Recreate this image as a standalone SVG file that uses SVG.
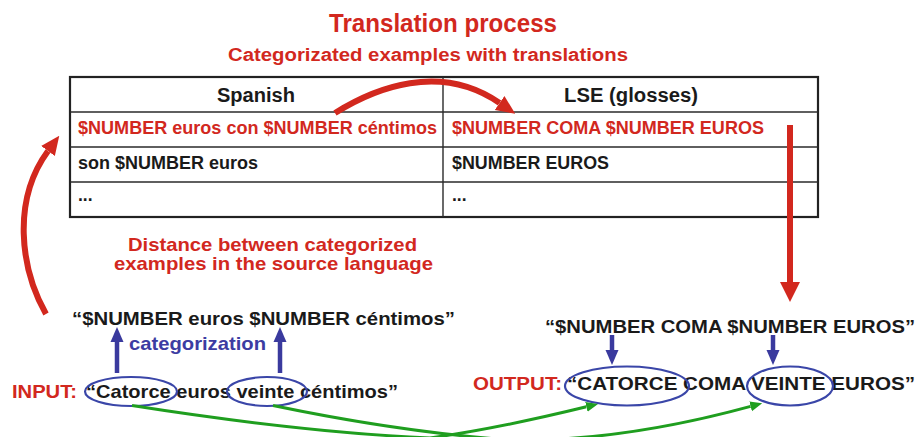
<svg xmlns="http://www.w3.org/2000/svg" width="917" height="437" viewBox="0 0 917 437">
  <defs>
    <style>
      text { font-family: "Liberation Sans", Arial, Helvetica, sans-serif; font-weight: bold; }
      .red { fill: #d2281e; }
      .blk { fill: #1a1a1a; }
      .blu { fill: #3c3ca2; }
      .cell { font-size: 17.5px; }
      .head { font-size: 20px; }
      .big { font-size: 19px; }
      .frame { fill: #ffffff; stroke: #222222; stroke-width: 2.2; }
      .rule { stroke: #2a2a2a; stroke-width: 1.4; }
      .ring { fill: none; stroke: #3a46a8; stroke-width: 2.2; }
      .flow-red { fill: none; stroke: #d2281e; stroke-width: 6; }
      .flow-blue { fill: none; stroke: #3a3a9e; stroke-width: 4.5; }
      .flow-green { fill: none; stroke: #1f9e1f; stroke-width: 3; }
    </style>
    <marker id="headRed" markerUnits="userSpaceOnUse" viewBox="0 -10 19 20" refX="0" refY="0" markerWidth="19" markerHeight="20" orient="auto">
      <path d="M0,-8.5 L19,0 L0,8.5 z" fill="#d2281e"/>
    </marker>
    <marker id="headRedV" markerUnits="userSpaceOnUse" viewBox="0 -10 20 20" refX="0" refY="0" markerWidth="20" markerHeight="20" orient="auto">
      <path d="M0,-10 L20,0 L0,10 z" fill="#d2281e"/>
    </marker>
    <marker id="headBlue" markerUnits="userSpaceOnUse" viewBox="0 -7 15 14" refX="0" refY="0" markerWidth="15" markerHeight="14" orient="auto">
      <path d="M0,-6.5 L15,0 L0,6.5 z" fill="#3a3a9e"/>
    </marker>
    <marker id="headGreen" markerUnits="userSpaceOnUse" viewBox="0 -6 12 12" refX="0" refY="0" markerWidth="12" markerHeight="12" orient="auto">
      <path d="M0,-5 L12,0 L0,5 z" fill="#1f9e1f"/>
    </marker>
  </defs>

  <rect width="917" height="437" fill="#ffffff"/>

  <!-- headings -->
  <g id="title">
    <text class="red" x="329" y="32" font-size="25" textLength="228" lengthAdjust="spacingAndGlyphs">Translation process</text>
    <text class="red" x="228" y="61" font-size="18" textLength="400" lengthAdjust="spacingAndGlyphs">Categorizated examples with translations</text>
  </g>

  <!-- example table -->
  <g id="examples-table">
    <rect class="frame" x="70" y="77" width="748" height="140"/>
    <line class="rule" x1="70" y1="112" x2="818" y2="112"/>
    <line class="rule" x1="70" y1="147" x2="818" y2="147"/>
    <line class="rule" x1="70" y1="182" x2="818" y2="182"/>
    <line class="rule" x1="443" y1="77" x2="443" y2="217"/>
    <text class="blk head" x="217" y="102" textLength="78" lengthAdjust="spacingAndGlyphs">Spanish</text>
    <text class="blk head" x="564" y="102" textLength="134" lengthAdjust="spacingAndGlyphs">LSE (glosses)</text>
    <text class="red cell" x="78" y="134" textLength="359" lengthAdjust="spacingAndGlyphs">$NUMBER euros con $NUMBER céntimos</text>
    <text class="red cell" x="452" y="134" textLength="312" lengthAdjust="spacingAndGlyphs">$NUMBER COMA $NUMBER EUROS</text>
    <text class="blk cell" x="78" y="169" textLength="180" lengthAdjust="spacingAndGlyphs">son $NUMBER euros</text>
    <text class="blk cell" x="452" y="169" textLength="157" lengthAdjust="spacingAndGlyphs">$NUMBER EUROS</text>
    <text class="blk cell" x="78" y="201">...</text>
    <text class="blk cell" x="452" y="201">...</text>
  </g>

  <g id="distance-note">
    <text class="red big" x="128" y="251" textLength="289" lengthAdjust="spacingAndGlyphs">Distance between categorized</text>
    <text class="red big" x="114" y="270" textLength="319" lengthAdjust="spacingAndGlyphs">examples in the source language</text>
  </g>

  <!-- source side -->
  <g id="source-pattern">
    <text class="blk big" x="72" y="325" textLength="383" lengthAdjust="spacingAndGlyphs">“$NUMBER euros $NUMBER céntimos”</text>
    <text class="blu big" x="129" y="350" textLength="137" lengthAdjust="spacingAndGlyphs">categorization</text>
  </g>

  <g id="input">
    <text class="red big" x="12" y="398" textLength="65" lengthAdjust="spacingAndGlyphs">INPUT:</text>
    <text class="blk big" x="86" y="398" textLength="312" lengthAdjust="spacingAndGlyphs">“Catorce euros veinte céntimos”</text>
    <ellipse class="ring" cx="131" cy="391.5" rx="46" ry="14.5"/>
    <ellipse class="ring" cx="267" cy="391.5" rx="40" ry="14.5"/>
  </g>

  <!-- target side -->
  <g id="target-pattern">
    <text class="blk big" x="545" y="333" textLength="370" lengthAdjust="spacingAndGlyphs">“$NUMBER COMA $NUMBER EUROS”</text>
  </g>

  <g id="output">
    <text class="red big" x="473" y="390" textLength="89" lengthAdjust="spacingAndGlyphs">OUTPUT:</text>
    <text class="blk big" x="567" y="390" textLength="348" lengthAdjust="spacingAndGlyphs">“CATORCE COMA VEINTE EUROS”</text>
    <ellipse class="ring" cx="627" cy="386" rx="62" ry="19.5"/>
    <ellipse class="ring" cx="790" cy="386" rx="43" ry="19.5"/>
  </g>

  <!-- connectors -->
  <g id="connectors">
    <path class="flow-red" d="M46,314 C20,268 12,200 48,151" marker-end="url(#headRed)"/>
    <path class="flow-red" d="M335,113 C375,88 440,62 499.6,103" marker-end="url(#headRed)"/>
    <path class="flow-red" d="M790,125 L790,282" marker-end="url(#headRedV)"/>

    <path class="flow-blue" d="M117,373 L117,342" marker-end="url(#headBlue)"/>
    <path class="flow-blue" d="M280,373 L280,342" marker-end="url(#headBlue)"/>
    <path class="flow-blue" d="M612,335 L612,350" marker-end="url(#headBlue)"/>
    <path class="flow-blue" d="M773,335 L773,350" marker-end="url(#headBlue)"/>

    <path class="flow-green" d="M132,405.5 Q300,432 430,438 Q500,428 586.4,406.8" marker-end="url(#headGreen)"/>
    <path class="flow-green" d="M273,405.5 Q400,432 510,440 Q620,442 750.6,406.4" marker-end="url(#headGreen)"/>
  </g>
</svg>
